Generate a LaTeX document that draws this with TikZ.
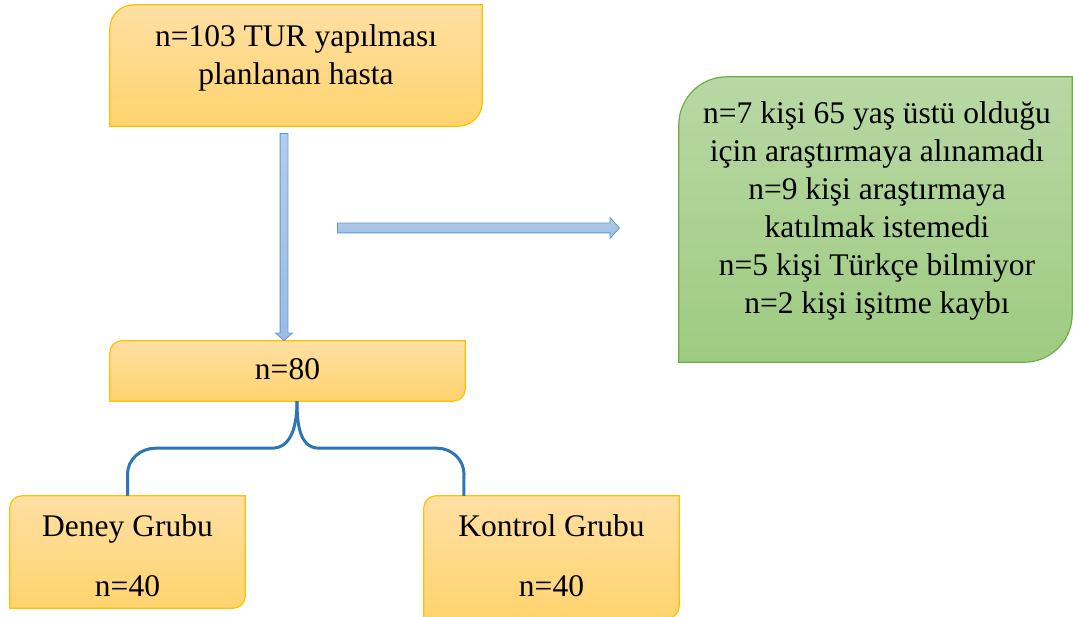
\documentclass[tikz,border=0pt]{standalone}
\usepackage{fontspec}
\setmainfont{Liberation Serif}
\usepackage{xcolor}
\usepackage{tikz}
\usetikzlibrary{arrows.meta,positioning,shapes.arrows,calc}

\definecolor{orangetop}{HTML}{FFE0A3}
\definecolor{orangebot}{HTML}{FFD36E}
\definecolor{orangeline}{HTML}{FFC000}
\definecolor{greentop}{HTML}{B8D8A4}
\definecolor{greenbot}{HTML}{9ECB81}
\definecolor{greenline}{HTML}{70AD47}
\definecolor{arrowtop}{HTML}{B3CDEC}
\definecolor{arrowbot}{HTML}{9BBBE3}
\definecolor{arrowline}{HTML}{5B9BD5}
\definecolor{braceblue}{HTML}{2E75B6}

% box with rounded top-left and bottom-right corners
\newcommand{\roundbox}[3]{%
  \path[#3] (#1.south west) -- ([yshift=-#2]#1.north west)
    arc[start angle=180, end angle=90, radius=#2] -- (#1.north east)
    -- ([yshift=#2]#1.south east)
    arc[start angle=0, end angle=-90, radius=#2] -- cycle;}

\begin{document}
\begin{tikzpicture}[
    x=1pt, y=1pt,
    box/.style={rectangle, inner sep=0pt},
    orangebox/.style={draw=orangeline, line width=1.2pt, top color=orangetop, bottom color=orangebot},
    greenbox/.style={draw=greenline, line width=1.2pt, top color=greentop, bottom color=greenbot},
    txt/.style={font=\fontsize{31.5}{38}\selectfont, align=center, inner sep=0pt},
    blockarrow/.style={single arrow, draw=arrowline, line width=0.8pt, top color=arrowtop, bottom color=arrowbot,
        inner xsep=0pt, single arrow tip angle=96, single arrow head indent=0pt},
    brace/.style={draw=braceblue, line width=3pt}
]
    \useasboundingbox (0,0) rectangle (1073,616);

    % Boxes
    \node[box, minimum width=372pt, minimum height=121pt] (plan) at (296,550.5) {};
    \roundbox{plan}{24pt}{orangebox}
    \node[txt] (plantext) at ([yshift=7.5pt]plan) {n=103 TUR yapılması\\planlanan hasta};

    \node[box, minimum width=393pt, minimum height=285pt] (excl) at (875.5,396.5) {};
    \roundbox{excl}{48pt}{greenbox}
    \node[txt] (excltext) at (877,405) {n=7 kişi 65 yaş üstü olduğu\\için araştırmaya alınamadı\\n=9 kişi araştırmaya\\katılmak istemedi\\n=5 kişi Türkçe bilmiyor\\n=2 kişi işitme kaybı};

    \node[box, minimum width=355pt, minimum height=60pt] (total) at (287.5,245) {};
    \roundbox{total}{12pt}{orangebox}
    \node[txt] (totaltext) at ([yshift=2pt]total) {n=80};

    \node[box, minimum width=235pt, minimum height=112pt] (deney) at (127.5,64) {};
    \roundbox{deney}{12pt}{orangebox}
    \node[txt] (deneytext) at (127.5,60) {Deney Grubu\\[22pt]n=40};

    \node[box, minimum width=255pt, minimum height=122pt] (kontrol) at (551.5,59) {};
    \roundbox{kontrol}{12pt}{orangebox}
    \node[txt] (kontroltext) at (551.5,60) {Kontrol Grubu\\[22pt]n=40};

    % Arrows
    \node[blockarrow, inner ysep=3.5pt, single arrow head extend=4.5pt, minimum height=207pt,
        rotate=-90, anchor=tail] (down) at ([xshift=-12pt, yshift=-7pt]plan.south) {};
    \node[blockarrow, inner ysep=4.5pt, single arrow head extend=5.5pt, minimum height=282pt,
        anchor=tail] (right) at (337,388) {};

    % Groups
    \draw[brace] ([xshift=9.5pt]total.south) to[out=-90,in=0] ++(-25,-47) -- ++(-116.5,0)
        to[out=180,in=90] ++(-28,-26) -- (deney.north);
    \draw[brace] ([xshift=9.5pt]total.south) to[out=-90,in=180] ++(22,-47) -- ++(118,0)
        to[out=0,in=90] ++(27,-26) -- ([xshift=40pt]kontrol.north west);
\end{tikzpicture}
\end{document}
